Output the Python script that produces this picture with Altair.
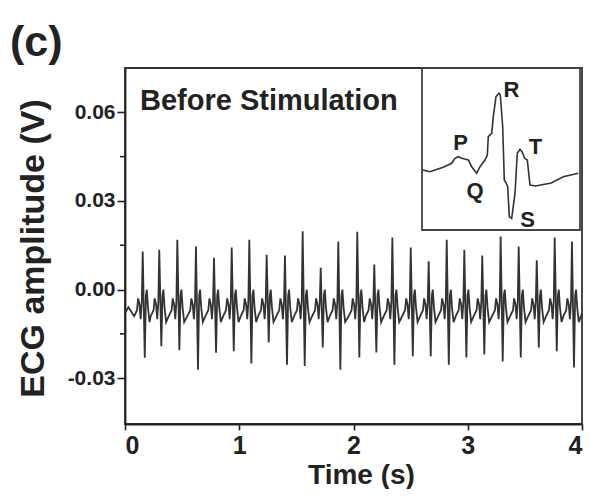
import altair as alt
import pandas as pd

# ---------------- main trace: readings per heartbeat ----------------
beat_t = [0.155, 0.300, 0.458, 0.621, 0.779, 0.934, 1.088, 1.240, 1.400, 1.555,
          1.713, 1.867, 2.033, 2.182, 2.340, 2.501, 2.658, 2.816, 2.970, 3.127,
          3.288, 3.446, 3.604, 3.761, 3.912]
r_peak = [0.0129, 0.0135, 0.0169, 0.0146, 0.0108, 0.0142, 0.0169, 0.0118, 0.0115, 0.0197,
          0.0074, 0.0163, 0.0196, 0.0085, 0.0176, 0.0142, 0.0096, 0.0169, 0.0135, 0.0115,
          0.0180, 0.0146, 0.0099, 0.0176, 0.0163]
s_trough = [-0.0231, -0.0192, -0.0205, -0.0271, -0.0214, -0.0209, -0.0250, -0.0179, -0.0254, -0.0259,
            -0.0196, -0.0271, -0.0230, -0.0213, -0.0254, -0.0226, -0.0226, -0.0254, -0.0230, -0.0220,
            -0.0243, -0.0230, -0.0196, -0.0209, -0.0264]
# small P/Q/T waves read around each beat (offset from R peak in s, amplitude in V)
pre_off = [-0.075, -0.05, -0.04, -0.028, -0.018, -0.008]
pre_val = [-0.009, -0.007, -0.003, -0.005, -0.010, -0.004]
s_off = 0.018
post_off = [0.028, 0.036, 0.046, 0.060]
post_val = [-0.002, 0.000, -0.006, -0.011]
lead_t, lead_v = [0.0, 0.03], [-0.008, -0.006]
tail_t, tail_v = [4.0], [-0.008]

y_major = [-0.03, 0.0, 0.03, 0.06]
y_minor = [-0.015, 0.015, 0.045]
x_major = [0, 1, 2, 3, 4]

# ---------------- inset: one beat ----------------
inset_t = [1.4, 16, 42.6, 59.4, 66, 72.6, 79.4, 92.6, 99.4, 109.4, 116, 126, 130.6, 132.6,
           139.4, 142.6, 148, 154, 156.6, 161.4, 164.6, 168.6, 171.4, 174.6, 179.4, 186,
           190.6, 196, 200, 205.4, 210.6, 216, 226.6, 256, 259.4, 282.6, 312.6]
inset_v = [0, -0.17, 0.27, 0.67, 1.17, 1.33, 1.17, 1.0, 0.33, -0.33, 0.33, 1.0, 1.5, 3.33,
           3.67, 5.33, 7.33, 7.67, 7.5, 4.33, -1.0, -1.33, -1.67, -4.67, -4.83, -2.33,
           1.67, 2.07, 1.83, 1.17, 1.0, -1.5, -1.6, -1.33, -1.27, -0.67, -0.33]
wave_names = ["P", "Q", "R", "T", "S"]
wave_t = [77, 106, 179, 227, 211]
wave_v = [2.7, -2.1, 8.0, 2.3, -5.0]

rows = list(zip(lead_t, lead_v))
for bt, r, s in zip(beat_t, r_peak, s_trough):
    rows += [(bt + o, v) for o, v in zip(pre_off, pre_val)]
    rows += [(bt, r), (bt + s_off, s)]
    rows += [(bt + o, v) for o, v in zip(post_off, post_val)]
rows += list(zip(tail_t, tail_v))
trace = pd.DataFrame(rows, columns=["t", "v"])

FONT = "Liberation Sans"
INK = "#222222"

xscale = alt.Scale(domain=[0, 4], nice=False, zero=False)
yscale = alt.Scale(domain=[-0.0455, 0.075], nice=False, zero=False)
xaxis = alt.Axis(values=x_major, format="d", tickSize=6, labelPadding=3,
                 labelFontSize=25, title="Time (s)", titleFontSize=28,
                 titleX=236, titleY=59, titleBaseline="alphabetic", titleAlign="center")
yaxis = alt.Axis(values=y_major, tickSize=8, labelPadding=2, labelFontSize=21,
                 labelExpr="replace(format(datum.value, '.2f'), '\u2212', '-')",
                 title="ECG amplitude (V)", titleFontSize=34, titleAngle=270,
                 titleX=-82, titleY=180, titleBaseline="alphabetic", titleAlign="center")
X = alt.X("t:Q", scale=xscale, axis=xaxis)
Y = alt.Y("v:Q", scale=yscale, axis=yaxis)

line = alt.Chart(trace).mark_line(color="#333333", strokeWidth=1.8).encode(x=X, y=Y)

minor = alt.Chart(pd.DataFrame({"v": y_minor})).mark_rule(color=INK, strokeWidth=1.6).encode(
    y=Y, x=alt.value(-5), x2=alt.value(0))

label = alt.Chart(pd.DataFrame({"t": [0.131], "v": [0.0609], "s": ["Before Stimulation"]})).mark_text(
    font=FONT, fontWeight="bold", fontSize=29, align="left", baseline="alphabetic", color=INK
).encode(x=X, y=Y, text="s:N")

panel = alt.Chart(pd.DataFrame({"s": ["(c)"]})).mark_text(
    font=FONT, fontWeight="bold", fontSize=43, align="left", baseline="alphabetic", color=INK
).encode(x=alt.value(-115), y=alt.value(-12), text="s:N")

main = alt.layer(line, minor, label, panel)

ixs = alt.Scale(domain=[0, 316], range=[297, 455], nice=False, zero=False)
iys = alt.Scale(domain=[-6, 10.2], range=[162, 0], nice=False, zero=False)
IX = alt.X("t:Q", scale=ixs, axis=None)
IY = alt.Y("v:Q", scale=iys, axis=None)

box = alt.Chart(pd.DataFrame({"t": [0], "t2": [316], "v": [-6], "v2": [10.2]})).mark_rect(
    fill="white", stroke="#444444", strokeWidth=1.8
).encode(x=IX, x2="t2:Q", y=IY, y2="v2:Q")
beat = alt.Chart(pd.DataFrame({"t": inset_t, "v": inset_v})).mark_line(
    color="#333333", strokeWidth=1.6).encode(x=IX, y=IY)
names = alt.Chart(pd.DataFrame({"t": wave_t, "v": wave_v, "n": wave_names})).mark_text(
    font=FONT, fontWeight="bold", fontSize=22, align="center", baseline="middle", color=INK
).encode(x=IX, y=IY, text="n:N")
inset = alt.layer(box, beat, names)

chart = alt.layer(main, inset).resolve_scale(x="independent", y="independent").properties(
    width=457, height=356,
    autosize=alt.AutoSizeParams(type="none"),
    padding={"left": 117, "top": 60, "right": 6, "bottom": 65},
).configure_view(stroke="#333333", strokeWidth=1.8).configure_axis(
    grid=False, domainColor=INK, domainWidth=1.8, tickColor=INK, tickWidth=1.6,
    labelFont=FONT, labelFontWeight="bold", labelColor=INK,
    titleFont=FONT, titleFontWeight="bold", titleColor=INK,
)

chart.save("out.html", embed_options={"renderer": "svg", "actions": False})
